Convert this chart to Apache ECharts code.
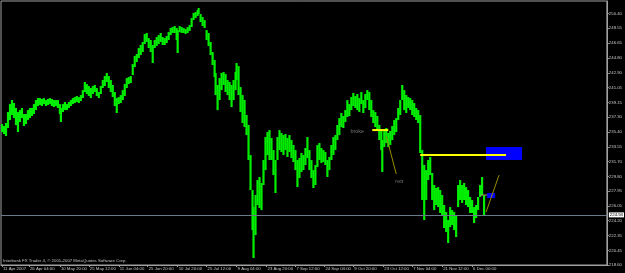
<!DOCTYPE html>
<html><head><meta charset="utf-8">
<script src="https://cdn.jsdelivr.net/npm/echarts@6/dist/echarts.min.js"></script>
<style>html,body{margin:0;padding:0;background:#000;}#c{width:625px;height:273px;}</style>
</head><body><div id="c"></div>
<script>
// bar position (column index) of each sampled bar
const barIdx = [2,4,6,8,10,12,14,16,18,20,
22,24,26,28,30,32,34,36,38,40,
42,44,46,48,50,52,54,56,58,60,
61,63,65,67,69,71,73,75,77,79,
81,83,85,87,89,91,93,95,97,99,
101,103,105,107,109,111,113,115,117,119,
121,123,125,127,129,131,133,135,137,139,
141,143,145,147,149,151,153,155,157,159,
161,163,165,167,169,171,173,175,177,178,
180,182,184,186,188,190,192,194,196,198,
199,201,203,205,207,209,211,213,215,216,
218,220,222,224,226,228,230,232,234,236,
237,239,241,243,245,247,249,251,253,254,
256,258,260,262,264,266,268,270,272,274,
276,278,280,282,284,286,288,290,292,294,
296,298,300,302,304,306,308,310,312,314,
316,318,320,322,324,326,328,330,332,334,
336,338,340,342,344,346,348,350,352,354,
356,358,360,362,364,366,368,370,372,374,
376,378,380,382,383,385,387,389,391,393,
395,397,399,401,403,405,407,409,411,413,
415,417,419,421,423,425,427,429,431,433,
435,437,439,441,443,445,447,449,451,453,
455,457,459,461,463,465,467,469,471,473,
475,477,479,481,483,485];
const highs = [236.43,236.18,236.56,237.95,238.96,239.47,239.09,238.46,237.95,238.20,
238.46,237.70,237.70,238.20,238.46,238.46,238.96,239.47,239.72,239.72,
239.60,239.72,239.47,239.60,239.72,239.60,239.47,239.47,239.47,238.96,
238.46,238.96,239.22,238.96,239.22,239.47,239.72,239.85,239.98,239.85,
240.10,240.73,241.75,241.49,241.24,240.99,241.24,241.37,240.99,240.48,
241.24,242.00,242.51,242.89,242.51,242.00,241.37,240.48,239.72,239.85,
240.10,240.73,241.49,242.25,242.38,242.51,244.02,245.04,245.29,246.05,
246.43,246.81,247.82,247.95,247.31,247.06,246.43,247.06,247.44,247.69,
247.95,247.44,247.31,247.57,248.07,248.58,248.70,248.83,248.58,248.32,
248.83,248.70,248.58,248.45,248.70,248.96,249.84,250.48,250.60,250.85,
251.11,250.35,249.97,249.59,248.32,247.95,246.81,245.54,244.53,242.89,
241.37,242.25,242.89,243.01,242.76,242.00,241.75,241.37,242.00,243.01,
244.15,243.77,241.11,240.10,239.47,237.57,236.31,232.51,228.08,225.93,
227.45,229.35,229.73,228.97,231.88,234.79,235.42,235.67,234.66,233.14,
231.88,234.79,235.67,235.30,235.04,235.17,234.66,235.04,234.41,233.78,
233.14,231.88,232.13,232.77,232.51,233.40,234.79,233.14,231.88,230.61,
231.25,233.78,234.03,233.40,233.14,232.89,231.88,232.26,233.78,234.79,
235.04,236.31,237.19,237.83,237.45,238.20,239.47,238.96,239.85,240.36,
239.98,240.23,239.72,240.48,239.47,240.23,240.73,240.48,239.47,238.20,
237.95,237.45,236.31,235.67,234.41,235.67,235.93,235.30,235.55,236.18,
236.94,237.19,238.46,239.47,241.37,240.73,240.10,239.85,239.72,239.47,
239.09,238.46,238.20,237.57,233.14,231.25,230.61,231.88,232.26,230.24,
228.72,228.34,228.46,228.08,227.45,226.19,225.30,224.29,225.93,225.55,
225.30,224.92,228.72,229.35,228.72,228.97,228.46,228.08,227.20,226.82,
225.93,226.19,227.20,228.72,229.73,227.45];
const lows = [235.42,235.17,234.92,235.93,236.94,237.57,237.19,236.31,235.42,236.69,
237.19,236.18,236.43,236.94,237.19,237.45,237.70,238.20,238.71,238.84,
238.71,238.96,238.71,238.84,238.96,238.71,238.58,238.71,238.46,237.70,
236.69,237.95,238.20,238.20,238.46,238.71,238.96,239.09,239.22,239.09,
239.34,239.72,240.48,240.23,239.98,239.72,240.23,240.48,239.98,239.72,
240.23,240.99,241.24,241.75,240.99,240.48,239.85,238.71,237.83,238.96,
239.09,239.47,239.98,240.99,241.49,241.62,242.63,243.64,244.28,244.78,
245.16,245.54,246.55,246.81,246.05,245.54,244.15,246.05,246.30,246.55,
246.81,246.43,246.43,246.68,247.06,247.69,247.95,247.95,247.06,245.42,
248.07,247.95,247.95,247.82,247.95,248.20,248.70,249.59,249.84,250.10,
250.35,249.34,248.83,248.58,247.06,246.30,245.16,243.90,242.38,240.10,
238.20,239.47,240.73,241.37,240.48,240.10,239.47,238.58,239.47,240.73,
242.00,240.10,237.95,236.56,236.05,235.04,231.88,228.08,223.02,219.48,
222.39,226.19,225.81,225.55,228.72,230.61,232.51,231.88,231.88,229.98,
227.71,231.88,233.14,232.89,232.51,233.14,232.26,232.89,232.13,231.63,
230.61,228.46,229.60,230.36,230.61,231.25,232.13,230.61,229.60,228.34,
228.72,230.99,231.88,231.50,231.63,231.25,229.73,230.61,231.88,232.51,
233.14,234.41,235.04,236.05,235.93,236.69,237.32,237.45,238.20,238.71,
238.46,238.20,237.95,238.96,237.83,238.46,239.47,238.20,237.32,236.56,
236.05,235.67,234.41,233.14,230.36,233.52,234.03,233.52,233.78,234.41,
235.04,235.42,236.94,237.57,239.47,238.20,237.83,238.46,238.20,237.57,
237.32,236.94,236.56,232.77,226.82,224.29,226.82,229.35,229.98,226.82,
225.55,226.19,225.93,225.18,224.92,223.28,222.77,221.38,223.40,223.66,
223.02,222.14,225.93,226.82,226.44,226.82,226.19,225.93,225.18,225.18,
223.91,224.54,225.55,227.20,227.45,224.90];

const priceTicks = [218.60,220.45,222.35,224.20,226.05,227.95,229.80,231.70,233.55,235.40,237.30,239.15,241.05,242.90,244.80,246.65,248.55,250.40];
const dateTickIdx = [2,29,60,89,119,148,178,207,237,267,296,325,354,384,413,443,473];
const dateLabels = ['11 Apr 2007','26 Apr 04:00','10 May 20:00','25 May 12:00','11 Jun 04:00','25 Jun 20:00','10 Jul 20:00','25 Jul 12:00','9 Aug 04:00','23 Aug 20:00','7 Sep 12:00','24 Sep 04:00','9 Oct 20:00','23 Oct 12:00','7 Nov 04:00','21 Nov 12:00','6 Dec 00:00'];
const bidPrice = 224.94;
const copyright = 'Interbank FX Trader 4, \u00a9 2001-2007 MetaQuotes Software Corp.';

// drawn objects: rectangles [x1, x2, priceTop, priceBottom]
const rectObjs = [[487,523,233.52,231.88],[488,496,227.71,227.07]];
// yellow horizontal lines [x1, x2, price]
const yellowLines = [[421,507,232.51],[373,389,235.67]];
// trend lines [x1, p1, x2, p2]
const trendLines = [[387,234.92,397,230.11],[487,225.30,500,229.98]];
const shortLine = [[481,227.45],[488,227.45]];
const annoText = ['broke','retr'];
const annoPos = [[351,235.55],[396,229.22]];

const FONT = 'Liberation Sans, Arial, sans-serif';
const dateMap = {};
dateTickIdx.forEach((v,i)=>dateMap[v]=dateLabels[i]);
const priceData = barIdx.map((x,i)=>[x,lows[i],highs[i]]);

const chart = echarts.init(document.getElementById('c'), null, {renderer:'canvas'});
const series = [];
series.push({
  type:'custom', data: priceData, encode:{x:0,y:[1,2]}, clip:true, z:2,
  renderItem:function(params, api){
    const x=api.value(0), lo=api.value(1), hi=api.value(2);
    const p1=api.coord([x,hi]), p2=api.coord([x,lo]);
    const w=api.size([2.2,0])[0];
    return {type:'rect', shape:{x:p1[0]-w/2, y:p1[1], width:w, height:Math.max(1,p2[1]-p1[1])}, style:{fill:'#00ee00'}};
  },
  markLine:{silent:true, symbol:['none','none'], data:[{yAxis:bidPrice}],
    lineStyle:{color:'#6b7a8b', type:'solid', width:1},
    label:{show:true, position:'end', distance:2, formatter:bidPrice.toFixed(2), backgroundColor:'#ffffff', color:'#000', fontSize:4.3, fontFamily:FONT, padding:[1,1,0,1]}
  }
});
series.push({
  type:'custom', data: rectObjs, z:3, clip:true,
  renderItem:function(params, api){
    const a=api.coord([api.value(0),api.value(2)]), b=api.coord([api.value(1),api.value(3)]);
    return {type:'rect', shape:{x:a[0],y:a[1],width:b[0]-a[0],height:b[1]-a[1]}, style:{fill:'#0000ff'}};
  }
});
yellowLines.forEach(l=>series.push({type:'line', data:[[l[0],l[2]],[l[1],l[2]]], symbol:'none', z:4, lineStyle:{color:'#ffff00', width:2}}));
trendLines.forEach(l=>series.push({type:'line', data:[[l[0],l[1]],[l[2],l[3]]], symbol:'none', z:4, lineStyle:{color:'#9a8c00', width:1}}));
series.push({type:'line', data:shortLine, symbol:'none', z:4, lineStyle:{color:'#a8a070', width:1}});
series.push({type:'scatter', data: annoPos.map((p,i)=>[p[0],p[1],annoText[i]]), symbolSize:0.1, z:5,
  label:{show:true, position:'right', distance:0, formatter:p=>p.value[2], color:'#8c8c8c', fontSize:5.5, fontFamily:FONT}});

chart.setOption({
  backgroundColor:'#000',
  animation:false,
  title:{text:copyright, left:3, top:259, padding:0, textStyle:{fontSize:4.3, color:'#c0c0c0', fontWeight:'normal', fontFamily:FONT}},
  grid:{left:1, right:17, top:1, bottom:8, show:true, borderColor:'#a0a0a0', borderWidth:1, backgroundColor:'#000'},
  xAxis:{type:'value', min:1, max:608,
    axisLine:{show:true, lineStyle:{color:'#a0a0a0'}},
    axisTick:{show:true, customValues:dateTickIdx, length:2, lineStyle:{color:'#a0a0a0'}},
    axisLabel:{show:true, customValues:dateTickIdx, formatter:v=>dateMap[v]||'', align:'left', margin:2, padding:[0,0,0,1], color:'#c8c8c8', fontSize:4.3, fontFamily:FONT},
    splitLine:{show:false}},
  yAxis:{type:'value', position:'right', min:218.60, max:252.0,
    axisLine:{show:true, lineStyle:{color:'#a0a0a0'}},
    axisTick:{show:true, customValues:priceTicks, length:2, lineStyle:{color:'#a0a0a0'}},
    axisLabel:{show:true, customValues:priceTicks, formatter:v=>v.toFixed(2), margin:2, color:'#c8c8c8', fontSize:4.3, fontFamily:FONT},
    splitLine:{show:false}},
  series: series
});
</script>
</body></html>
